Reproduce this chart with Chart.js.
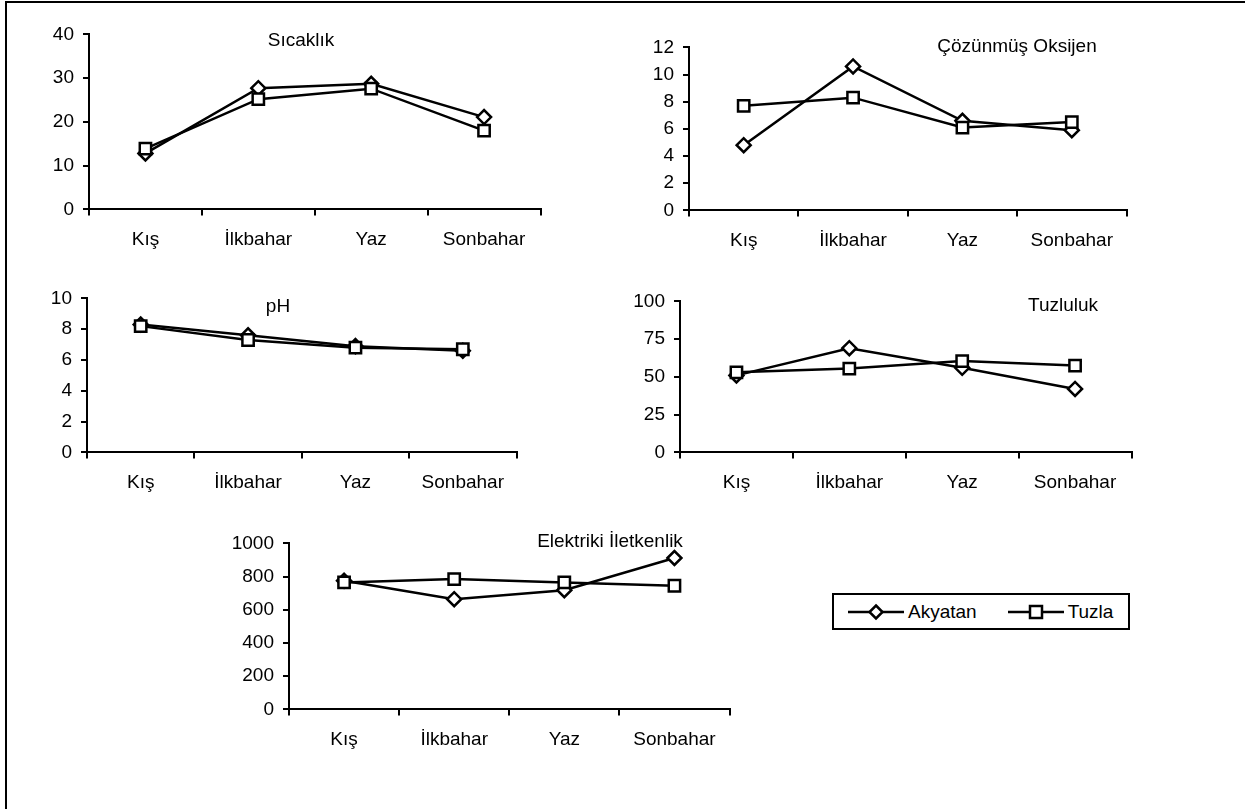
<!DOCTYPE html>
<html>
<head>
<meta charset="utf-8">
<script src="https://cdn.jsdelivr.net/npm/chart.js@4.4.1/dist/chart.umd.min.js"></script>
<style>
  html, body { margin: 0; padding: 0; background: #fff; overflow: hidden; width: 1245px; height: 809px; }
  body { position: relative; font-family: "Liberation Sans", Arial, sans-serif; color: #000; }
  .frame { position: absolute; left: 5px; top: 1px; width: 1400px; height: 1000px; border: 2px solid #000; }
  .panel { position: absolute; }
  .title { position: absolute; font-size: 19px; white-space: nowrap; transform: translate(-50%, -50%); }
  .legend { position: absolute; left: 832px; top: 593px; width: 294px; height: 33px; border: 2px solid #000;
            display: flex; align-items: center; font-size: 19px; }
  .legend .item { display: flex; align-items: center; margin-left: 14px; }
  .legend .item + .item { margin-left: 31px; }
  .legend svg { margin-right: 4px; }
</style>
</head>
<body>
<div class="frame"></div>

<!-- Ortak veriler -->
<script>
const SEASONS = ['Kış', 'İlkbahar', 'Yaz', 'Sonbahar'];
const SERIES_NAMES = ['Akyatan', 'Tuzla'];

// Sıcaklık
const sicaklikAkyatan = [12.8, 27.7, 28.7, 21.1];
const sicaklikTuzla = [13.9, 25.2, 27.6, 18.0];
const sicaklikTicks = [0, 10, 20, 30, 40];

// Çözünmüş Oksijen
const oksijenAkyatan = [4.8, 10.6, 6.6, 5.9];
const oksijenTuzla = [7.7, 8.3, 6.1, 6.5];
const oksijenTicks = [0, 2, 4, 6, 8, 10, 12];

// pH
const phAkyatan = [8.3, 7.6, 6.9, 6.6];
const phTuzla = [8.2, 7.3, 6.8, 6.7];
const phTicks = [0, 2, 4, 6, 8, 10];

// Tuzluluk
const tuzlulukAkyatan = [51, 69, 56, 42];
const tuzlulukTuzla = [53, 55.5, 60.5, 57.5];
const tuzlulukTicks = [0, 25, 50, 75, 100];

// Elektriki İletkenlik
const iletkenlikAkyatan = [775, 664, 718, 912];
const iletkenlikTuzla = [765, 785, 765, 745];
const iletkenlikTicks = [0, 200, 400, 600, 800, 1000];
</script>

<script>
/* Panel yerleşimi: eksen çizgilerinin sayfadaki konumu */
const FONT = { family: '"Liberation Sans", Arial, sans-serif', size: 19 };
const Y_AXIS_W = 70;
const X_AXIS_H = 50;
const Y_TICK_PAD = 9;
// chart.js üst etiketin yarı yüksekliği + padding kadar boşluk bırakıyor
const TOP_OVERHANG = FONT.size * 1.2 / 2 + Y_TICK_PAD;
const PAD_RIGHT = 10;

const panels = [
  { title: 'Sıcaklık', a: sicaklikAkyatan, t: sicaklikTuzla, ticks: sicaklikTicks,
    box: { x: 89, top: 34, right: 541, bottom: 209 }, titlePos: [301, 40] },
  { title: 'Çözünmüş Oksijen', a: oksijenAkyatan, t: oksijenTuzla, ticks: oksijenTicks,
    box: { x: 689, top: 47, right: 1127, bottom: 210 }, titlePos: [1017, 46] },
  { title: 'pH', a: phAkyatan, t: phTuzla, ticks: phTicks,
    box: { x: 87, top: 298, right: 517, bottom: 452 }, titlePos: [278, 306] },
  { title: 'Tuzluluk', a: tuzlulukAkyatan, t: tuzlulukTuzla, ticks: tuzlulukTicks,
    box: { x: 680, top: 301, right: 1132, bottom: 452 }, titlePos: [1063, 305] },
  { title: 'Elektriki İletkenlik', a: iletkenlikAkyatan, t: iletkenlikTuzla, ticks: iletkenlikTicks,
    box: { x: 289, top: 543, right: 730, bottom: 709 }, titlePos: [610, 541] }
];

function makeDataset(label, values, style, order) {
  return {
    label,
    data: values,
    borderColor: '#000',
    borderWidth: 2.5,
    pointStyle: style,
    pointRadius: style === 'rect' ? 8 : 7,
    pointBorderWidth: 2.5,
    pointBackgroundColor: '#fff',
    pointBorderColor: '#000',
    tension: 0,
    order
  };
}

panels.forEach(p => {
  const b = p.box;
  const wrap = document.createElement('div');
  wrap.className = 'panel';
  const w = b.right - b.x + Y_AXIS_W + PAD_RIGHT;
  const h = b.bottom - b.top + TOP_OVERHANG + X_AXIS_H;
  wrap.style.left = (b.x - Y_AXIS_W) + 'px';
  wrap.style.top = (b.top - TOP_OVERHANG) + 'px';
  wrap.style.width = w + 'px';
  wrap.style.height = h + 'px';
  const canvas = document.createElement('canvas');
  wrap.appendChild(canvas);
  document.body.appendChild(wrap);

  const lo = p.ticks[0], hi = p.ticks[p.ticks.length - 1];

  new Chart(canvas, {
    type: 'line',
    data: {
      labels: SEASONS,
      datasets: [
        makeDataset(SERIES_NAMES[0], p.a, 'rectRot', 2),
        makeDataset(SERIES_NAMES[1], p.t, 'rect', 1)
      ]
    },
    options: {
      responsive: true,
      maintainAspectRatio: false,
      animation: false,
      events: [],
      layout: { padding: { left: 0, top: 0, right: PAD_RIGHT, bottom: 0 } },
      plugins: { legend: { display: false }, tooltip: { enabled: false } },
      scales: {
        x: {
          offset: true,
          grid: { offset: true, drawOnChartArea: false, drawTicks: true, tickLength: 6, color: '#000', lineWidth: 2 },
          border: { display: true, color: '#000', width: 2 },
          ticks: { color: '#000', font: FONT, padding: 13, maxRotation: 0, autoSkip: false },
          afterFit: s => { s.height = X_AXIS_H; }
        },
        y: {
          min: lo,
          max: hi,
          afterBuildTicks: s => { s.ticks = p.ticks.map(v => ({ value: v })); },
          grid: { drawOnChartArea: false, drawTicks: true, tickLength: 6, color: '#000', lineWidth: 2 },
          border: { display: true, color: '#000', width: 2 },
          ticks: { color: '#000', font: FONT, padding: Y_TICK_PAD, autoSkip: false, callback: v => String(v) },
          afterFit: s => { s.width = Y_AXIS_W; }
        }
      }
    }
  });

  const t = document.createElement('div');
  t.className = 'title';
  t.textContent = p.title;
  t.style.left = p.titlePos[0] + 'px';
  t.style.top = p.titlePos[1] + 'px';
  document.body.appendChild(t);
});
</script>

<div class="legend">
  <div class="item">
    <svg width="56" height="18"><line x1="0" y1="9" x2="56" y2="9" stroke="#000" stroke-width="2.5"/>
      <polygon points="28,2.5 34.5,9 28,15.5 21.5,9" fill="#fff" stroke="#000" stroke-width="2.5"/></svg>
    <span>Akyatan</span>
  </div>
  <div class="item">
    <svg width="56" height="18"><line x1="0" y1="9" x2="56" y2="9" stroke="#000" stroke-width="2.5"/>
      <rect x="22" y="3" width="12" height="12" fill="#fff" stroke="#000" stroke-width="2.5"/></svg>
    <span>Tuzla</span>
  </div>
</div>
</body>
</html>
